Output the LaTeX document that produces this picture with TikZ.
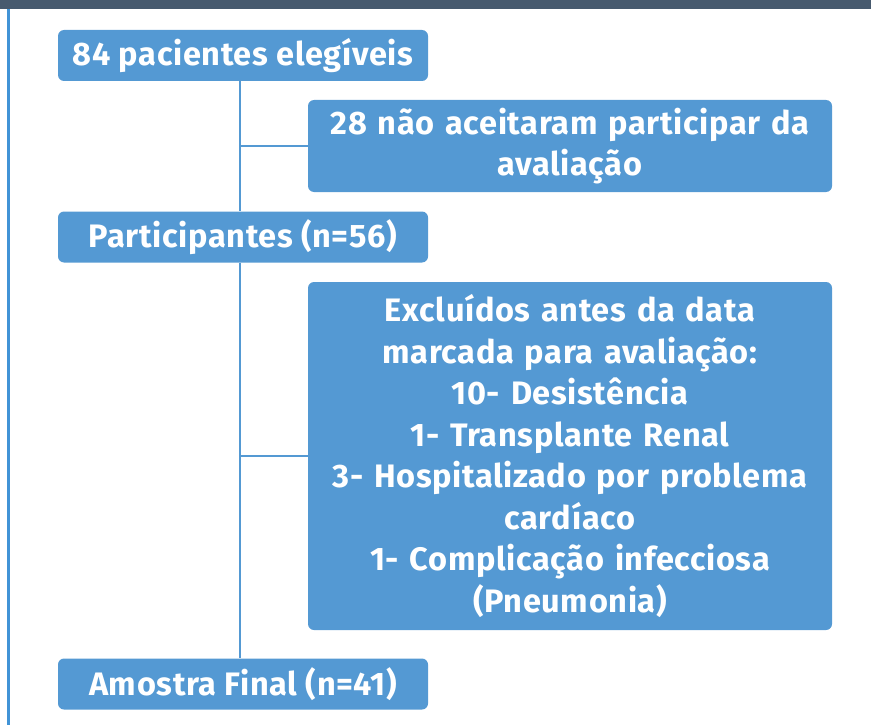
\documentclass[tikz,border=0pt]{standalone}
\usepackage{fontspec}
\setmainfont{Fira Sans}[LetterSpace=2]
\usetikzlibrary{positioning}
\definecolor{boxblue}{RGB}{84,153,211}
\definecolor{edgeblue}{RGB}{65,147,214}
\definecolor{barslate}{RGB}{71,90,110}
\tikzset{
  flowbox/.style={fill=boxblue, rounded corners=6pt, text=white, align=center,
    font=\fontsize{32.5}{41.5}\selectfont\bfseries, inner sep=0pt},
  smallbox/.style={flowbox, minimum width=370pt, minimum height=51pt},
  widebox/.style={flowbox, minimum width=524pt, text width=520pt},
  link/.style={draw=boxblue, line width=2pt}
}
\begin{document}
\begin{tikzpicture}[x=1pt, y=-1pt]
      \useasboundingbox (0,0) rectangle (871,725);
      % Frame of the figure
      \fill[barslate] (0,0) rectangle (871,9);
      \fill[edgeblue] (7,9) rectangle (10,725);

      % Define the nodes on the main column
      \node[smallbox] (eleg) at (243,55.5) {84 pacientes elegíveis};
      \node[smallbox] (part) at (243,237) {Participantes (n=56)};
      \node[smallbox] (final) at (243,684) {Amostra Final (n=41)};

      % Define the nodes on the side
      \node[widebox, minimum height=92pt] (recusa) at (570,146) {28 não aceitaram participar da\\avaliação};
      \node[widebox, minimum height=348pt] (exclu) at (570,456) {Excluídos antes da data\\marcada para avaliação:\\10- Desistência\\1- Transplante Renal\\3- Hospitalizado por problema\\cardíaco\\1- Complicação infecciosa\\(Pneumonia)};

      % Draw the connectors
      \coordinate (spine) at (240,0);
      \draw[link] (eleg.south -| spine) -- (part.north -| spine);
      \draw[link] (part.south -| spine) -- (final.north -| spine);
      \draw[link] (recusa.west -| spine) -- (recusa.west);
      \draw[link] (exclu.west -| spine) -- (exclu.west);
\end{tikzpicture}
\end{document}
